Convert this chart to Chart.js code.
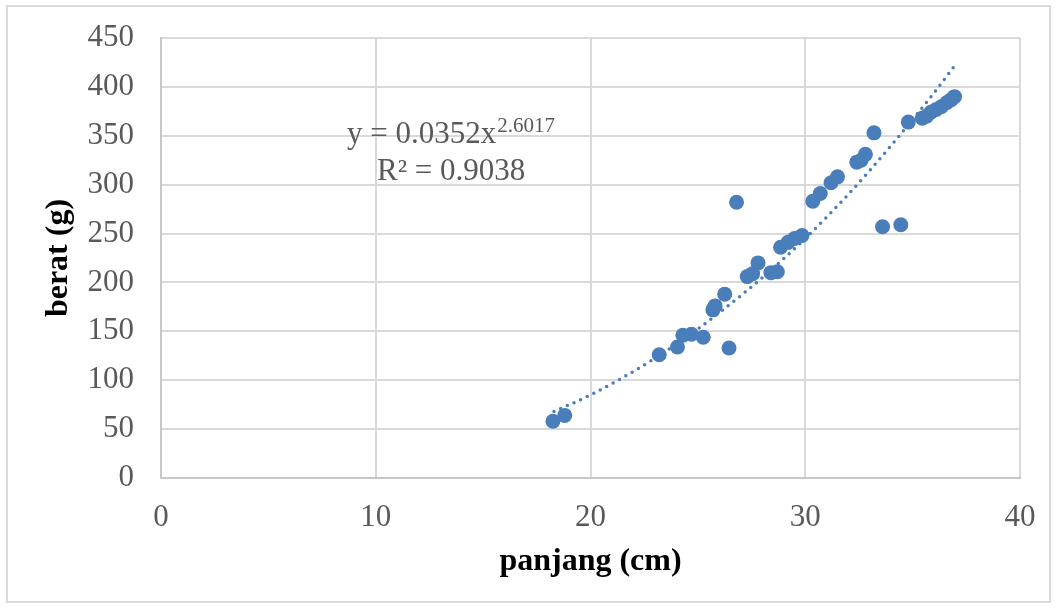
<!DOCTYPE html>
<html>
<head>
<meta charset="utf-8">
<script src="https://cdn.jsdelivr.net/npm/chart.js@4/dist/chart.umd.min.js"></script>
<style>
  html, body { margin: 0; padding: 0; background: #fff; }
</style>
</head>
<body>
<canvas id="chart" width="1057" height="608"></canvas>
<script>
// measured data (panjang in cm, berat in g)
const panjang = [18.25, 18.8, 23.2, 24.05, 24.3, 24.7, 25.25, 26.45, 25.7, 25.8,
  26.25, 26.8, 27.3, 27.55, 27.8, 28.4, 28.7, 28.85, 29.2, 29.5,
  29.85, 30.35, 30.7, 31.2, 31.5, 32.4, 32.6, 32.8, 33.2, 33.6,
  34.45, 34.8, 35.45, 35.65, 35.85, 36.1, 36.35, 36.6, 36.8, 36.95];
const berat = [58, 64, 126, 134, 146, 147, 144, 133, 172, 176,
  188, 282, 206, 209, 220, 210, 211, 236, 241, 245,
  248, 283, 291, 302, 308, 323, 325, 331, 353, 257,
  259, 364, 368, 370, 374, 377, 380, 384, 387, 390];

// power trendline
const trendPanjang = [18.3, 20, 22, 24, 26, 28, 30, 32, 34, 36, 36.9];
const trendBerat = [68, 85, 109, 137, 169, 205, 245, 290, 340, 394, 420];

const equationText = 'y = 0.0352x';
const equationPower = '2.6017';
const rSquaredText = 'R² = 0.9038';

const serif = '"Liberation Serif", "Times New Roman", serif';
const blue = '#4a7ebb';

// outer frame of the chart
const frame = {
  id: 'frame',
  beforeDraw(chart) {
    const ctx = chart.ctx;
    ctx.save();
    ctx.fillStyle = '#fff';
    ctx.fillRect(0, 0, chart.width, chart.height);
    ctx.strokeStyle = '#d9d9d9';
    ctx.lineWidth = 2;
    ctx.strokeRect(7, 6, chart.width - 14, chart.height - 12);
    ctx.restore();
  }
};

// trendline equation label
const equationLabel = {
  id: 'equationLabel',
  afterDatasetsDraw(chart) {
    const ctx = chart.ctx;
    ctx.save();
    ctx.fillStyle = '#595959';
    ctx.textBaseline = 'alphabetic';
    ctx.font = '31px ' + serif;
    ctx.fillText(equationText, 347, 143);
    const w = ctx.measureText(equationText).width;
    ctx.font = '21px ' + serif;
    ctx.fillText(equationPower, 347 + w + 1, 132);
    ctx.font = '31px ' + serif;
    ctx.fillText(rSquaredText, 377, 180);
    ctx.restore();
  }
};

new Chart(document.getElementById('chart'), {
  type: 'scatter',
  data: {
    datasets: [{
      label: 'trend',
      data: trendPanjang.map((x, i) => ({ x: x, y: trendBerat[i] })),
      showLine: true,
      cubicInterpolationMode: 'monotone',
      borderColor: blue,
      borderWidth: 3.5,
      borderDash: [0, 7.3],
      borderCapStyle: 'round',
      pointRadius: 0,
      fill: false
    }, {
      label: 'berat',
      data: panjang.map((x, i) => ({ x: x, y: berat[i] })),
      backgroundColor: blue,
      borderColor: blue,
      borderWidth: 0,
      pointRadius: 7.5,
      pointHoverRadius: 7.5
    }]
  },
  options: {
    responsive: false,
    animation: false,
    devicePixelRatio: 1,
    layout: {
      padding: { left: 0, top: 38, right: 37, bottom: 0 }
    },
    plugins: {
      legend: { display: false },
      tooltip: { enabled: false }
    },
    scales: {
      x: {
        type: 'linear',
        min: 0,
        max: 40,
        afterFit: s => { s.height = 130; s.paddingLeft = 0; s.paddingRight = 0; },
        ticks: {
          stepSize: 10,
          color: '#595959',
          padding: 21,
          font: { family: serif, size: 31 }
        },
        grid: { color: '#d9d9d9', lineWidth: 2, drawTicks: false },
        border: { color: '#c8c8c8', width: 2 },
        title: {
          display: true,
          text: 'panjang (cm)',
          color: '#000',
          font: { family: serif, size: 32, weight: 'bold' },
          padding: { top: 0, bottom: 27 }
        }
      },
      y: {
        min: 0,
        max: 450,
        afterFit: s => { s.width = 161; s.paddingTop = 0; s.paddingBottom = 0; },
        ticks: {
          stepSize: 50,
          color: '#595959',
          padding: 27,
          font: { family: serif, size: 31 }
        },
        grid: { color: '#d9d9d9', lineWidth: 2, drawTicks: false },
        border: { color: '#c8c8c8', width: 2 },
        title: {
          display: true,
          text: 'berat (g)',
          color: '#000',
          font: { family: serif, size: 32, weight: 'bold' },
          padding: { top: 40, bottom: 0 }
        }
      }
    }
  },
  plugins: [frame, equationLabel]
});
</script>
</body>
</html>
